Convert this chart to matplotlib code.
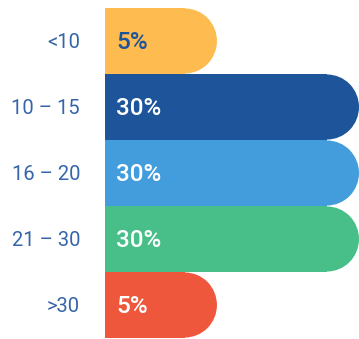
import numpy as np
import matplotlib
matplotlib.use("Agg")
import matplotlib.pyplot as plt
from matplotlib.patches import Ellipse, Rectangle

# data
categories = ["<10", "10 \u2013 15", "16 \u2013 20", "21 \u2013 30", ">30"]
values = [5, 30, 30, 30, 5]
value_labels = ["5%", "30%", "30%", "30%", "5%"]

colors = ["#FDBB50", "#1E5499", "#439CDC", "#48BF88", "#EE573B"]
text_colors = ["#1E5499", "white", "white", "white", "white"]
label_color = "#3565A8"

base = 14.7      # bars start left of zero so the short ones stay readable
cap_px = 32      # radius of the rounded end, pixels

fig = plt.figure(figsize=(3.59, 3.39), dpi=100)
ax = fig.add_axes([105 / 359, 1 / 339, 254 / 359, 330 / 339])
ax.set_xlim(-base, 30)
ax.set_ylim(4.5, -0.5)
ax.axis("off")

fig.canvas.draw()
px_x = ax.transData.transform((1, 0))[0] - ax.transData.transform((0, 0))[0]
r = cap_px / px_x

h = 0.985
for i, v in enumerate(values):
    x0 = -base
    y0 = i - h / 2
    ax.add_patch(Rectangle((x0, y0), v - r - x0, h, fc=colors[i], ec="none"))
    ax.add_patch(Ellipse((v - r, i), 2 * r, h, fc=colors[i], ec="none"))
    ax.text(x0 + 11 / px_x, i + 0.03, value_labels[i], color=text_colors[i],
            fontsize=17.5, fontweight="medium", family="Roboto",
            ha="left", va="center")
    ax.text(x0 - 25 / px_x, i + 0.02, categories[i], color=label_color,
            fontsize=14.5, fontweight="normal", family="Roboto",
            ha="right", va="center", clip_on=False)

fig.savefig("out.png", dpi=100)
